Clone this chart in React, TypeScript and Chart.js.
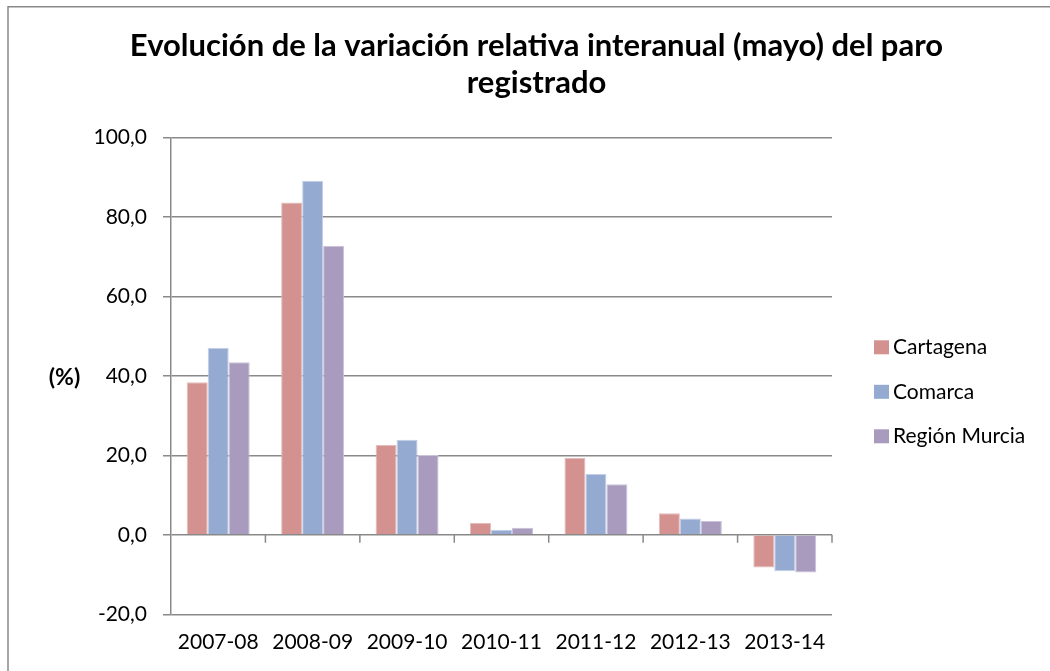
import { useEffect, useRef } from 'react';
import { Chart, registerables } from 'chart.js';

Chart.register(...registerables);

const categories = ['2007-08', '2008-09', '2009-10', '2010-11', '2011-12', '2012-13', '2013-14'];
const cartagena = [38.4, 83.6, 22.6, 3.0, 19.4, 5.4, -8.2];
const comarca = [47.0, 89.1, 23.9, 1.3, 15.3, 4.1, -9.2];
const regionMurcia = [43.4, 72.7, 20.1, 1.8, 12.7, 3.5, -9.5];
const seriesNames = ['Cartagena', 'Comarca', 'Región Murcia'];
const yTicks = [-20, 0, 20, 40, 60, 80, 100];
const titleLines = ['Evolución de la variación relativa interanual (mayo) del paro', 'registrado'];
const yAxisTitle = '(%)';

const FONT = 'Lato';
const GRID = '#898989';
const LABEL_SIZE = 21;

const decorPlugin = {
  id: 'decor',
  beforeDraw(chart: any) {
    const ctx = chart.ctx;
    ctx.save();
    ctx.fillStyle = '#ffffff';
    ctx.fillRect(0, 0, chart.width, chart.height);
    ctx.strokeStyle = GRID;
    ctx.lineWidth = 1.5;
    ctx.beginPath();
    ctx.moveTo(8, chart.height + 2);
    ctx.lineTo(8, 6.75);
    ctx.lineTo(chart.width + 2, 6.75);
    ctx.stroke();
    ctx.restore();
  },
  afterDatasetsDraw(chart: any) {
    const ctx = chart.ctx;
    const xs = chart.scales.x;
    const ys = chart.scales.y;
    const y0 = ys.getPixelForValue(0);
    const n = categories.length;
    const half = (xs.getPixelForValue(1) - xs.getPixelForValue(0)) / 2;
    ctx.save();
    ctx.strokeStyle = GRID;
    ctx.lineWidth = 1.5;
    ctx.beginPath();
    for (let i = 1; i <= n; i++) {
      const x = xs.getPixelForValue(i - 1) + half;
      ctx.moveTo(x, y0);
      ctx.lineTo(x, y0 + 8);
    }
    ctx.stroke();
    ctx.restore();
  },
  afterDraw(chart: any) {
    const ctx = chart.ctx;
    const area = chart.chartArea;
    const cy = (area.top + area.bottom) / 2;
    ctx.save();
    ctx.fillStyle = '#000';
    ctx.font = `bold 23px ${FONT}`;
    ctx.textAlign = 'center';
    ctx.textBaseline = 'alphabetic';
    ctx.fillText(yAxisTitle, 64.5, cy + 9.5);
    ctx.font = `${LABEL_SIZE}px ${FONT}`;
    ctx.textAlign = 'left';
    chart.data.datasets.forEach((ds: any, i: number) => {
      const rc = cy + 16 + (i - 1) * 44.5;
      ctx.fillStyle = ds.backgroundColor;
      ctx.fillRect(874, rc - 7, 15, 14);
      ctx.fillStyle = '#000';
      ctx.fillText(ds.label, 893, rc + 7);
    });
    ctx.restore();
  },
};

export default function App() {
  const ref = useRef<HTMLCanvasElement>(null);
  useEffect(() => {
    const colors = ['#D39190', '#95AAD0', '#A99BBE'];
    const borders = ['#E4BDBC', '#C2CFE6', '#CBC2DA'];
    const values = [cartagena, comarca, regionMurcia];
    const chart = new Chart(ref.current as HTMLCanvasElement, {
      type: 'bar',
      data: {
        labels: categories,
        datasets: values.map((v, i) => ({
          label: seriesNames[i],
          data: v,
          backgroundColor: colors[i],
          borderColor: borders[i],
          borderWidth: 1,
          categoryPercentage: 0.667,
          barPercentage: 1.0,
        })),
      },
      options: {
        responsive: false,
        animation: false,
        devicePixelRatio: 1,
        layout: { padding: { left: 23, right: 0, top: 0, bottom: 0 } },
        plugins: {
          legend: { display: false },
          tooltip: { enabled: false },
          title: {
            display: true,
            text: titleLines,
            color: '#000',
            font: { family: FONT, size: 31, weight: 'bold', lineHeight: 37 / 31 },
            padding: { top: 27.9, bottom: 35.4 },
          },
        },
        scales: {
          x: {
            type: 'category',
            grid: { display: false, drawTicks: false },
            border: { display: false },
            ticks: { color: '#000', font: { family: FONT, size: LABEL_SIZE }, padding: 15, maxRotation: 0, autoSkip: false },
            afterFit: (s: any) => { s.height = 56.7; },
          },
          y: {
            type: 'linear',
            min: -20,
            max: 100,
            afterBuildTicks: (s: any) => { s.ticks = yTicks.map((v) => ({ value: v })); },
            grid: { color: GRID, lineWidth: 1.5, tickLength: 8, drawTicks: true },
            border: { display: true, color: GRID, width: 1.5 },
            ticks: {
              color: '#000',
              font: { family: FONT, size: LABEL_SIZE },
              padding: 16,
              callback: (v: any) => Number(v).toFixed(1).replace('.', ','),
            },
            afterFit: (s: any) => { s.width = 148; },
          },
          yRight: {
            type: 'linear',
            position: 'right',
            display: true,
            grid: { display: false },
            border: { display: false },
            ticks: { display: false },
            afterFit: (s: any) => { s.width = 218; },
          },
        },
      },
      plugins: [decorPlugin],
    });
    return () => chart.destroy();
  }, []);
  return (
    <div style={{ position: 'absolute', left: 0, top: 0, width: 1050, height: 671, background: '#fff' }}>
      <canvas ref={ref} width={1050} height={671} />
    </div>
  );
}
